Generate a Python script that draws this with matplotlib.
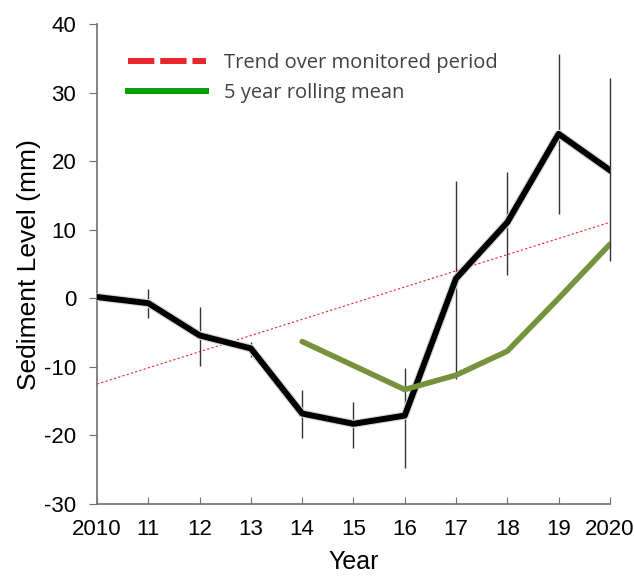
import matplotlib
matplotlib.use("Agg")
import matplotlib.pyplot as plt
from matplotlib.lines import Line2D
import matplotlib.patheffects as pe

plt.rcParams["axes.unicode_minus"] = False

years = [2010, 2011, 2012, 2013, 2014, 2015, 2016, 2017, 2018, 2019, 2020]
sediment = [0.2, -0.7, -5.4, -7.3, -16.8, -18.3, -17.1, 2.9, 11.1, 24.0, 18.7]
err_hi = [0.2, 1.3, -1.2, -6.3, -13.4, -15.1, -10.1, 17.2, 18.4, 35.6, 32.2]
err_lo = [0.2, -2.9, -9.9, -8.5, -20.3, -21.9, -24.8, -11.7, 3.4, 12.3, 5.4]
roll_years = [2014, 2015, 2016, 2017, 2018, 2019, 2020]
roll_mean = [-6.3, -9.8, -13.3, -11.2, -7.7, 0.0, 7.9]
trend_years = [2010, 2020]
trend_vals = [-12.5, 11.1]
xtick_labels = ["2010", "11", "12", "13", "14", "15", "16", "17", "18", "19", "2020"]

fig = plt.figure(figsize=(6.34, 5.77), dpi=100)
ax = fig.add_axes([0.153, 0.1265, 0.809, 0.8315])

ax.plot(trend_years, trend_vals, color="#e8262b", lw=0.8, ls=(0, (2, 2)), zorder=2)
for x, lo, hi in zip(years, err_lo, err_hi):
    if hi != lo:
        ax.vlines(x, lo, hi, color="#333333", lw=1.0, zorder=3, clip_on=False)
ax.plot(years, sediment, color="black", lw=4.3, solid_joinstyle="round", zorder=4,
        path_effects=[pe.Stroke(linewidth=6, foreground="#d8d8d8"), pe.Normal()])
ax.plot(roll_years, roll_mean, color="#76923c", lw=4, solid_capstyle="round", zorder=5)

ax.set_xlim(2010, 2020)
ax.set_ylim(-30, 40)
ax.set_xticks(years)
ax.set_xticklabels(xtick_labels)
ax.set_yticks(range(-30, 41, 10))
for s in ["top", "right"]:
    ax.spines[s].set_visible(False)
for s in ["left", "bottom"]:
    ax.spines[s].set_color("#707070")
    ax.spines[s].set_linewidth(1.2)
ax.tick_params(axis="x", direction="in", length=5, color="#707070", labelsize=16, pad=11)
ax.tick_params(axis="y", direction="out", length=6, color="#707070", labelsize=16, pad=9)
for lab in ax.get_xticklabels() + ax.get_yticklabels():
    lab.set_fontfamily("Liberation Sans")
ax.set_xlabel("Year", fontsize=18, family="Liberation Sans", labelpad=7)
ax.set_ylabel("Sediment Level (mm)", fontsize=19, family="Liberation Sans", labelpad=2)

handles = [Line2D([], [], color="#e8262b", lw=4.3, ls=(0, (4.4, 1.0))),
           Line2D([], [], color="#00a000", lw=4.3)]
leg = ax.legend(handles, ["Trend over monitored period", "5 year rolling mean"],
                loc="upper left", bbox_to_anchor=(0.06, 0.94), frameon=False,
                borderpad=0, borderaxespad=0,
                handlelength=3.9, handletextpad=0.9, labelspacing=0.5,
                prop={"family": "Open Sans", "size": 14.5})
for t in leg.get_texts():
    t.set_color("#404040")

fig.savefig("out.png", dpi=100)
